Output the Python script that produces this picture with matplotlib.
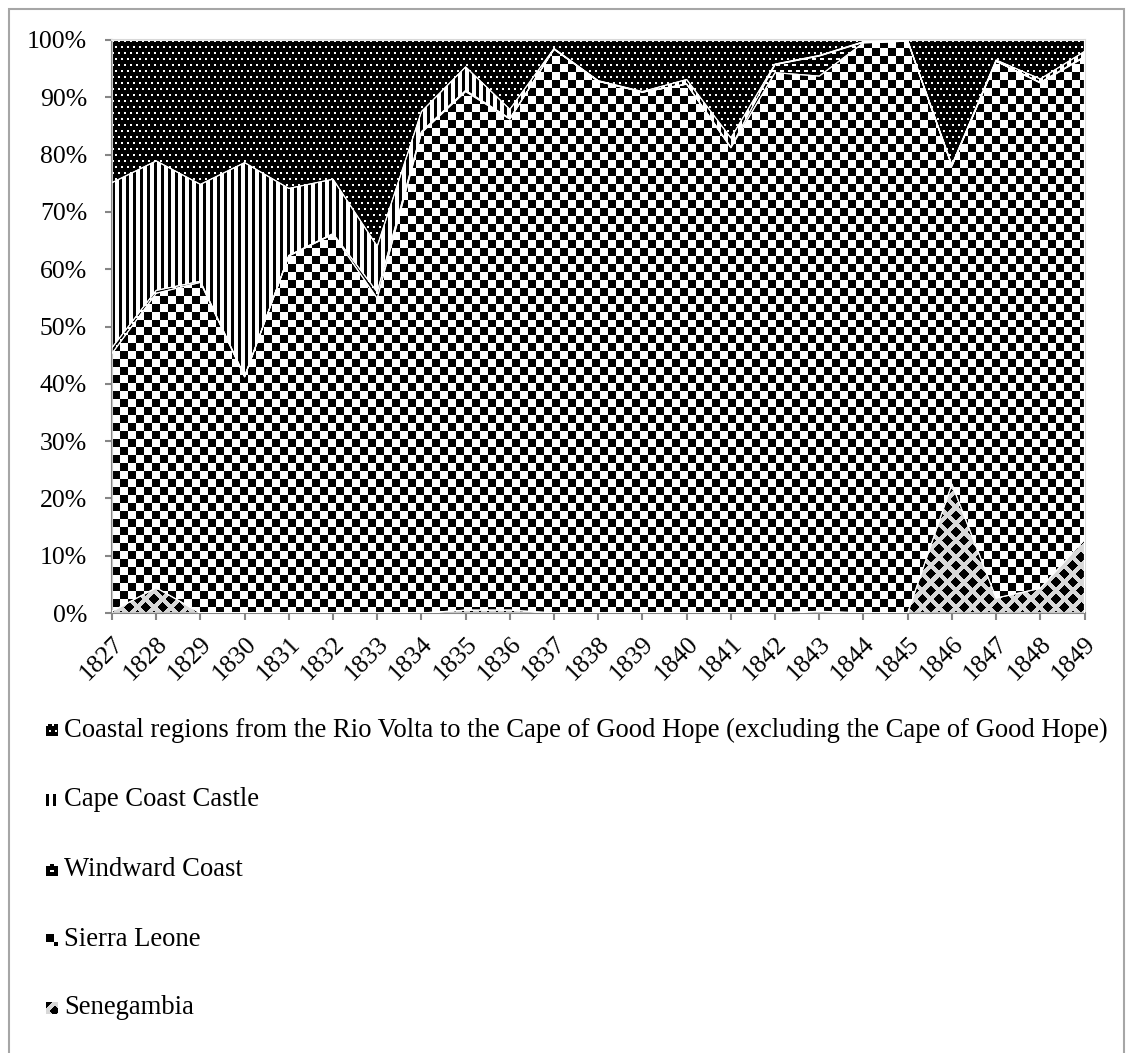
import numpy as np
import matplotlib
matplotlib.use('Agg')
import matplotlib.pyplot as plt
from matplotlib.patches import Rectangle

# share of each region per year (%)
years = list(range(1827, 1850))
senegambia   = [0.3, 4.4, 0, 0, 0, 0, 0, 0, 0.5, 0.5, 0, 0, 0, 0, 0, 0, 0.3, 0, 0, 22.5, 2.6, 4.3, 12.8]
sierra_leone = [45.0, 51.4, 57.7, 41.2, 62.3, 66.1, 54.9, 83.8, 90.5, 85.7, 98.4, 92.8, 90.9, 92.3,
                81.2, 94.3, 93.4, 99.5, 99.8, 55.5, 93.7, 88.2, 84.2]
windward     = [1.0, 0.5, 0.2, 0.1, 0.1, 0.1, 1.1, 0.2, 0.2, 0.1, 0, 0, 0, 0, 0.1, 1.4, 3.5, 0.1, 0, 0, 0, 0.1, 0.1]
cape_coast   = [28.8, 22.6, 16.9, 37.3, 11.7, 9.5, 8.0, 3.5, 4.1, 1.6, 0.1, 0.1, 0.1, 0.8, 1.6, 0.1, 0.1,
                0.1, 0.1, 0.2, 0.2, 0.6, 0.9]
coastal      = [24.9, 21.1, 25.2, 21.4, 25.9, 24.3, 36.0, 12.5, 4.7, 12.1, 1.5, 7.1, 9.0, 6.9, 17.1, 4.2,
                2.7, 0.3, 0.1, 21.8, 3.5, 6.8, 2.0]
labels = ['Coastal regions from the Rio Volta to the Cape of Good Hope (excluding the Cape of Good Hope)',
          'Cape Coast Castle', 'Windward Coast', 'Sierra Leone', 'Senegambia']

plt.rcParams['font.family'] = ['Liberation Serif', 'DejaVu Serif']

W, H = 1133, 1053
fig = plt.figure(figsize=(W / 100, H / 100), dpi=100)
ax_l, ax_r, ax_t, ax_b = 112, 1084.5, 40, 613
ax = fig.add_axes([ax_l / W, 1 - ax_b / H, (ax_r - ax_l) / W, (ax_b - ax_t) / H])

# pixel patterns (Excel style fills)
pw, ph = int(ax_r - ax_l) + 1, int(ax_b - ax_t) + 1
xx, yy = np.meshgrid(np.arange(pw), np.arange(ph))


def rgb(mask, on, off):
    img = np.empty(mask.shape + (3,))
    img[:] = off
    img[mask] = on
    return img


black, white, grey = (0, 0, 0), (1, 1, 1), (0.85, 0.85, 0.85)
pat_checker = rgb(((xx // 8 + yy // 8) % 2) == 0, black, white)
pat_vlines = rgb((xx % 7) < 3, black, white)
pat_dots = rgb((yy % 6 < 2) & ((xx + 3 * ((yy // 6) % 2)) % 6 < 2), white, black)
pat_dash = rgb((yy % 6 < 2) & ((xx + 4 * ((yy // 6) % 2)) % 8 < 4), white, black)
P = 16.7
da = np.abs(xx - P * np.round(xx / P)) + np.abs(yy - P * np.round(yy / P))
db = np.abs(xx - P / 2 - P * np.round((xx - P / 2) / P)) + np.abs(yy - P / 2 - P * np.round((yy - P / 2) / P))
pat_diam = rgb(np.minimum(da, db) < 5.3, black, grey)

series = [senegambia, sierra_leone, windward, cape_coast, coastal]
patterns = [pat_diam, pat_checker, pat_dash, pat_vlines, pat_dots]
vals = np.array(series, dtype=float)
vals = vals / vals.sum(axis=0) * 100
tops = np.cumsum(vals, axis=0)
bottoms = np.vstack([np.zeros(len(years)), tops[:-1]])

for i in range(len(series)):
    poly = ax.fill_between(years, bottoms[i], tops[i], facecolor='none', edgecolor='white',
                           linewidth=0.8, zorder=3)
    im = ax.imshow(patterns[i], extent=(years[0], years[-1], 0, 100), aspect='auto',
                   interpolation='nearest', zorder=2)
    im.set_clip_path(poly.get_paths()[0], poly.get_transform())

ax.set_xlim(years[0], years[-1])
ax.set_ylim(0, 100)
ax.set_yticks(range(0, 101, 10))
ax.set_yticklabels([f'{v}%' for v in range(0, 101, 10)])
ax.set_xticks(years)
ax.set_xticklabels([str(y) for y in years], rotation=45, ha='right', va='top', rotation_mode='anchor')
ax.tick_params(axis='y', length=5, width=1.5, color='#868686', pad=13, labelsize=18.5)
ax.tick_params(axis='x', length=5, width=1.5, color='#868686', pad=9, labelsize=18.5)
for s in ['left', 'bottom']:
    ax.spines[s].set_color('#868686')
    ax.spines[s].set_linewidth(1.5)
for s in ['top', 'right']:
    ax.spines[s].set_color('#d9d9d9')
    ax.spines[s].set_linewidth(1.5)

# legend drawn by hand, one entry per row
leg_y = [730, 800, 870, 940, 1008]
for i, lab in enumerate(labels):
    pat = patterns[len(series) - 1 - i]
    fig.figimage(pat[:12, :12], xo=46, yo=H - leg_y[i] - 6, zorder=5)
    fig.text(64 / W, 1 - leg_y[i] / H, lab, fontsize=19.2, va='center', ha='left')

fig.add_artist(Rectangle((9 / W, -0.01), (1124 - 9) / W, 1 - 9 / H + 0.01, transform=fig.transFigure,
                         facecolor='none', edgecolor='#a6a6a6', linewidth=1.5))

fig.savefig('out.png', dpi=100)
